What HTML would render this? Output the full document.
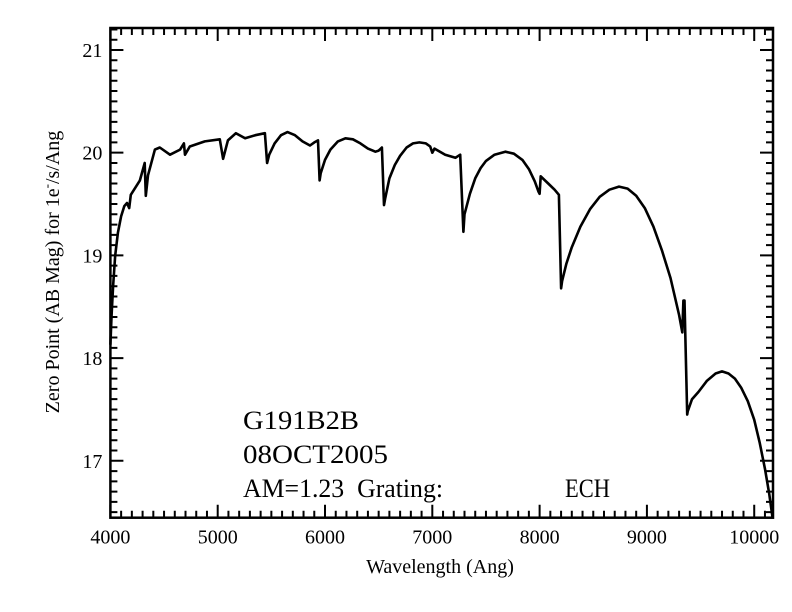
<!DOCTYPE html>
<html><head><meta charset="utf-8"><style>
html,body{margin:0;padding:0;background:#fff;}
svg{display:block;font-family:"Liberation Serif",serif;}
</style></head><body>
<svg id="chart" width="792" height="612" viewBox="0 0 792 612">
<rect x="0" y="0" width="792" height="612" fill="#fff"/>
<g id="ticks"></g>
<path id="curve" fill="none" stroke="#000" stroke-width="2.6" stroke-linejoin="round"/>
<rect x="110.4" y="28" width="662.6" height="489.7" fill="none" stroke="#000" stroke-width="2.5"/>
<g id="labels" font-size="20" fill="#000"></g>
<text x="440" y="573" font-size="20" text-anchor="middle">Wavelength (Ang)</text>
<text transform="translate(59,272) rotate(-90)" font-size="20" text-anchor="middle">Zero Point (AB Mag) for 1e<tspan font-size="13" dy="-8">-</tspan><tspan dy="8">/s/Ang</tspan></text>
<text x="243" y="429" font-size="26" textLength="116" lengthAdjust="spacingAndGlyphs">G191B2B</text>
<text x="243" y="463" font-size="26" textLength="145" lengthAdjust="spacingAndGlyphs">08OCT2005</text>
<text x="243" y="497" font-size="26" style="white-space:pre" xml:space="preserve" textLength="200" lengthAdjust="spacingAndGlyphs">AM=1.23  Grating:</text>
<text x="565" y="497" font-size="26" textLength="45" lengthAdjust="spacingAndGlyphs">ECH</text>
</svg>
<script>
const wavelengths=[4000,4010,4025,4045,4070,4100,4130,4155,4175,4190,4275,4320,4330,4350,4415,4460,4555,4650,4685,4695,4740,4880,5020,5050,5095,5170,5255,5350,5440,5460,5480,5530,5590,5650,5720,5790,5860,5900,5935,5950,5960,6000,6050,6120,6190,6260,6330,6400,6470,6500,6530,6550,6560,6600,6650,6700,6760,6820,6880,6940,6980,7000,7020,7120,7215,7260,7290,7300,7350,7400,7450,7500,7580,7680,7760,7840,7900,7955,7990,8000,8010,8080,8140,8180,8200,8210,8250,8300,8380,8470,8560,8650,8740,8820,8900,8980,9060,9140,9220,9300,9330,9340,9350,9375,9380,9420,9480,9560,9640,9700,9760,9820,9880,9940,10000,10050,10100,10140,10170];
const mags=[18.13,18.4,18.7,19.0,19.22,19.38,19.48,19.51,19.46,19.59,19.73,19.90,19.58,19.78,20.03,20.05,19.98,20.03,20.09,19.98,20.06,20.11,20.13,19.94,20.12,20.19,20.14,20.17,20.19,19.90,19.98,20.09,20.17,20.20,20.17,20.11,20.07,20.10,20.12,19.73,19.80,19.93,20.03,20.11,20.14,20.13,20.09,20.04,20.01,20.02,20.05,19.49,19.55,19.75,19.88,19.97,20.05,20.09,20.10,20.09,20.06,20.00,20.04,19.98,19.95,19.98,19.23,19.40,19.60,19.75,19.85,19.92,19.98,20.01,19.99,19.93,19.84,19.72,19.62,19.60,19.77,19.70,19.64,19.59,18.68,18.75,18.92,19.08,19.28,19.45,19.57,19.64,19.67,19.65,19.58,19.46,19.28,19.05,18.78,18.42,18.25,18.56,18.56,17.45,17.48,17.60,17.67,17.78,17.85,17.87,17.85,17.80,17.71,17.58,17.40,17.18,16.92,16.68,16.45];
const xTickLabels=[4000,5000,6000,7000,8000,9000,10000];
const yTickLabels=[17,18,19,20,21];
const X0=4000,X1=10175,Y0=16.446,Y1=21.214;
const L=110.4,R=773,T=28,B=517.7;
const sx=v=>L+(v-X0)/(X1-X0)*(R-L);
const sy=v=>B-(v-Y0)/(Y1-Y0)*(B-T);
const NS='http://www.w3.org/2000/svg';
let d='';
wavelengths.forEach((w,i)=>{d+=(i?'L':'M')+sx(w).toFixed(1)+','+sy(mags[i]).toFixed(1);});
document.getElementById('curve').setAttribute('d',d);
const tg=document.getElementById('ticks');
let td='';
for(let w=4000;w<=10100;w+=100){const x=sx(w);const len=(w%1000===0)?13:7;td+=`M${x},${B}v${-len}M${x},${T}v${len}`;}
for(let k=165;k<=212;k++){const m=k/10;const y=sy(m);const len=(k%10===0)?13:7;td+=`M${L},${y}h${len}M${R},${y}h${-len}`;}
const tp=document.createElementNS(NS,'path');
tp.setAttribute('d',td);tp.setAttribute('stroke','#000');tp.setAttribute('stroke-width','2');


tg.appendChild(tp);
const lg=document.getElementById('labels');
xTickLabels.forEach(v=>{const t=document.createElementNS(NS,'text');
t.setAttribute('x',sx(v));t.setAttribute('y',B+26);t.setAttribute('text-anchor','middle');t.textContent=v;


lg.appendChild(t);});
yTickLabels.forEach(v=>{const t=document.createElementNS(NS,'text');
t.setAttribute('x',L-8);t.setAttribute('y',sy(v)+7);t.setAttribute('text-anchor','end');t.textContent=v;


lg.appendChild(t);});
</script>
</body></html>
